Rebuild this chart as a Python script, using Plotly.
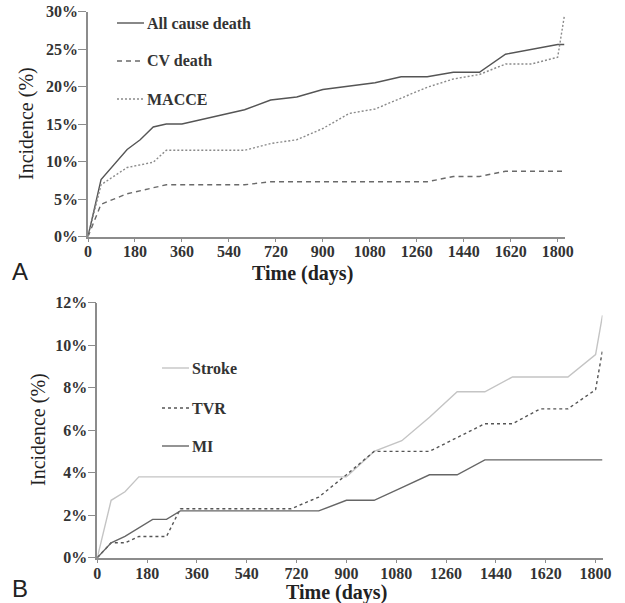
import plotly.graph_objects as go

# Panel A data
days_a = [0, 50, 150, 200, 250, 300, 360, 600, 700, 800, 900, 1000, 1100, 1200, 1300, 1400, 1500, 1600, 1700, 1800, 1825]
all_cause = [0, 7.6, 11.6, 12.9, 14.6, 15.0, 15.0, 16.9, 18.2, 18.6, 19.6, 20.0, 20.5, 21.3, 21.3, 21.9, 21.9, 24.3, 25.0, 25.6, 25.6]
cv_death = [0, 4.3, 5.7, 6.1, 6.5, 6.9, 6.9, 6.9, 7.3, 7.3, 7.3, 7.3, 7.3, 7.3, 7.3, 8.0, 8.0, 8.7, 8.7, 8.7, 8.7]
macce = [0, 6.9, 9.2, 9.6, 9.9, 11.5, 11.5, 11.5, 12.4, 12.9, 14.4, 16.4, 17.0, 18.5, 19.9, 21.0, 21.6, 23.0, 23.0, 23.9, 29.3]

# Panel B data
days_b = [0, 50, 100, 150, 200, 250, 300, 700, 800, 900, 1000, 1100, 1200, 1300, 1400, 1500, 1600, 1700, 1800, 1825]
stroke = [0, 2.7, 3.1, 3.8, 3.8, 3.8, 3.8, 3.8, 3.8, 3.8, 5.0, 5.5, 6.6, 7.8, 7.8, 8.5, 8.5, 8.5, 9.55, 11.4]
tvr = [0, 0.7, 0.7, 1.0, 1.0, 1.0, 2.3, 2.3, 2.85, 3.9, 5.0, 5.0, 5.0, 5.65, 6.3, 6.3, 7.0, 7.0, 7.9, 9.75]
mi = [0, 0.7, 1.0, 1.4, 1.8, 1.8, 2.2, 2.2, 2.2, 2.7, 2.7, 3.3, 3.9, 3.9, 4.6, 4.6, 4.6, 4.6, 4.6, 4.6]

x_ticks = [0, 180, 360, 540, 720, 900, 1080, 1260, 1440, 1620, 1800]
y_ticks_a = [0, 5, 10, 15, 20, 25, 30]
y_ticks_b = [0, 2, 4, 6, 8, 10, 12]

W, H = 625, 603
def px(x):
    return x / W
def py(y):
    return 1 - y / H

SERIF = "Liberation Serif, Times New Roman, serif"
AX = "#8c8c8c"

fig = go.Figure()

styles_a = [("All cause death", all_cause, "#555555", "solid", 1.4),
            ("CV death", cv_death, "#6a6a6a", "5px,4px", 1.4),
            ("MACCE", macce, "#8a8a8a", "2px,2px", 1.4)]
for name, vals, col, dash, w in styles_a:
    fig.add_trace(go.Scatter(x=days_a, y=vals, mode="lines", name=name,
                             line=dict(color=col, dash=dash, width=w),
                             xaxis="x", yaxis="y", showlegend=False))

styles_b = [("Stroke", stroke, "#c4c4c4", "solid", 1.4),
            ("TVR", tvr, "#555555", "3px,3px", 1.4),
            ("MI", mi, "#666666", "solid", 1.4)]
for name, vals, col, dash, w in styles_b:
    fig.add_trace(go.Scatter(x=days_b, y=vals, mode="lines", name=name,
                             line=dict(color=col, dash=dash, width=w),
                             xaxis="x2", yaxis="y2", showlegend=False))

tickfont = dict(family=SERIF, size=16, color="#333333")
common_x = dict(tickvals=x_ticks, ticktext=[f"<b>{v}</b>" for v in x_ticks],
                ticks="outside", ticklen=4, tickcolor=AX, automargin=False,
                ticklabeloverflow="allow", ticklabelstandoff=-4,
                showline=True, linecolor=AX, linewidth=1.5, showgrid=False,
                zeroline=False, tickfont=tickfont)
common_y = dict(ticks="outside", ticklen=8, tickcolor=AX, showline=True,
                linecolor=AX, linewidth=1.5, showgrid=False, zeroline=False,
                ticklabelstandoff=-3,
                automargin=False, ticklabeloverflow="allow", tickfont=tickfont)

fig.update_layout(
    width=W, height=H, margin=dict(l=0, r=0, t=0, b=0, autoexpand=False),
    paper_bgcolor="white", plot_bgcolor="white",
    xaxis=dict(domain=[px(88), px(565)], range=[0, 1828], anchor="y", **common_x),
    yaxis=dict(domain=[py(236.5), py(11.5)], range=[0, 30], tickvals=y_ticks_a,
               ticktext=[f"<b>{v}%</b>" for v in y_ticks_a], anchor="x", **common_y),
    xaxis2=dict(domain=[px(97.3), px(602.5)], range=[0, 1825], anchor="y2", **common_x),
    yaxis2=dict(domain=[py(557.7), py(302.5)], range=[0, 12], tickvals=y_ticks_b,
                ticktext=[f"<b>{v}%</b>" for v in y_ticks_b], anchor="x2", **common_y),
)

ann = []
shapes = []
# Legend A
leg_a = [("All cause death", 23, "#555555", "solid"),
         ("CV death", 61, "#6a6a6a", "5px,4px"),
         ("MACCE", 99, "#8a8a8a", "2px,2px")]
for text, yy, col, dash in leg_a:
    shapes.append(dict(type="line", xref="paper", yref="paper",
                       x0=px(117), x1=px(144), y0=py(yy), y1=py(yy),
                       line=dict(color=col, dash=dash, width=1.4)))
    ann.append(dict(text=f"<b>{text}</b>", xref="paper", yref="paper", x=px(145), y=py(yy),
                    xanchor="left", yanchor="middle", showarrow=False,
                    font=dict(family=SERIF, size=16, color="#333333")))
# Legend B
leg_b = [("Stroke", 368, "#c4c4c4", "solid"),
         ("TVR", 408, "#555555", "3px,3px"),
         ("MI", 446, "#666666", "solid")]
for text, yy, col, dash in leg_b:
    shapes.append(dict(type="line", xref="paper", yref="paper",
                       x0=px(162), x1=px(189), y0=py(yy), y1=py(yy),
                       line=dict(color=col, dash=dash, width=1.4)))
    ann.append(dict(text=f"<b>{text}</b>", xref="paper", yref="paper", x=px(190), y=py(yy),
                    xanchor="left", yanchor="middle", showarrow=False,
                    font=dict(family=SERIF, size=16, color="#333333")))

# Axis titles
ann.append(dict(text="<b>Time (days)</b>", xref="paper", yref="paper", x=px(302), y=py(273),
                xanchor="center", yanchor="middle", showarrow=False,
                font=dict(family=SERIF, size=20, color="#222222")))
ann.append(dict(text="<b>Time (days)</b>", xref="paper", yref="paper", x=px(336), y=py(592),
                xanchor="center", yanchor="middle", showarrow=False,
                font=dict(family=SERIF, size=20, color="#222222")))
ann.append(dict(text="Incidence (%)", xref="paper", yref="paper", x=px(27), y=py(124),
                xanchor="center", yanchor="middle", showarrow=False, textangle=-90,
                font=dict(family=SERIF, size=20, color="#222222")))
ann.append(dict(text="Incidence (%)", xref="paper", yref="paper", x=px(38), y=py(430),
                xanchor="center", yanchor="middle", showarrow=False, textangle=-90,
                font=dict(family=SERIF, size=20, color="#222222")))
# Panel letters
ann.append(dict(text="A", xref="paper", yref="paper", x=px(10), y=py(271),
                xanchor="left", yanchor="middle", showarrow=False,
                font=dict(family="Liberation Sans, Arial, sans-serif", size=24, color="#222222")))
ann.append(dict(text="B", xref="paper", yref="paper", x=px(10), y=py(588),
                xanchor="left", yanchor="middle", showarrow=False,
                font=dict(family="Liberation Sans, Arial, sans-serif", size=24, color="#222222")))

fig.update_layout(annotations=ann, shapes=shapes)
fig.write_html("out.html", config={"displayModeBar": False},
               post_script="document.body.style.margin = '0px';")
